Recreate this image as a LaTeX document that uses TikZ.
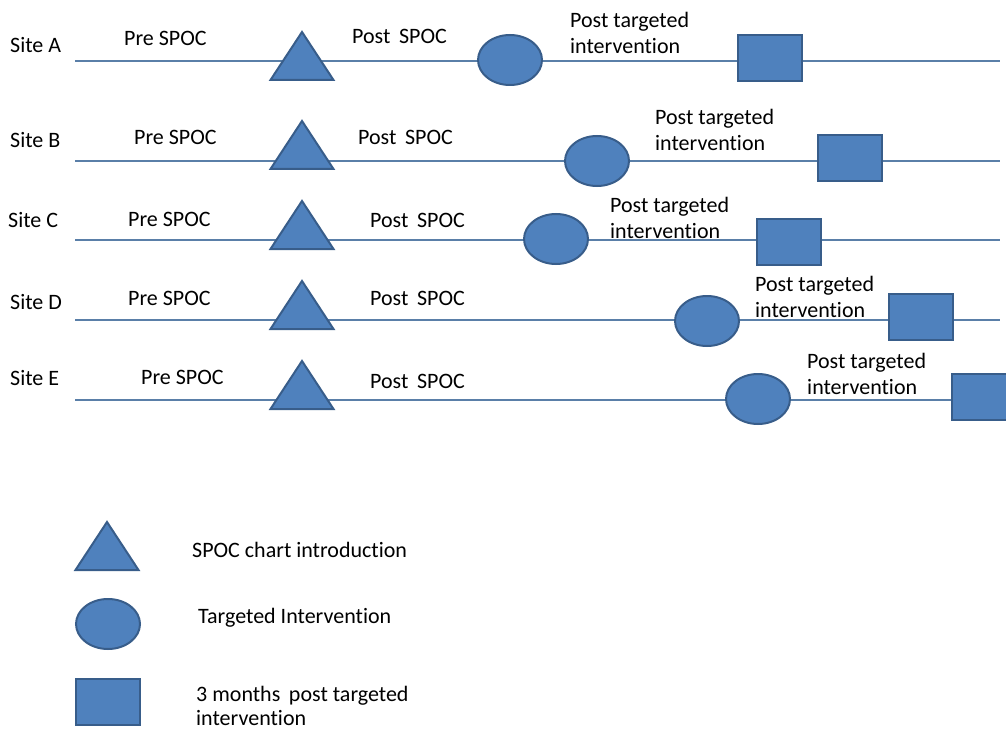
\documentclass[tikz,border=0pt]{standalone}
\usepackage{fontspec}
\setmainfont{Carlito}[Ligatures=NoCommon]
\usetikzlibrary{shapes.geometric}
\definecolor{shapefill}{HTML}{4F81BD}
\definecolor{shapeedge}{HTML}{385D8A}
\definecolor{timeline}{HTML}{5A7FA8}

\begin{document}
\begin{tikzpicture}[
  x=1pt, y=-1pt,
  font=\fontsize{22}{26}\selectfont,
  line/.style={draw=timeline, line width=1.2pt},
  mark shape/.style={fill=shapefill, draw=shapeedge, line width=2pt, inner sep=0pt, outer sep=0pt},
  tri/.style={mark shape, isosceles triangle, shape border rotate=90,
              isosceles triangle stretches, minimum width=63pt, minimum height=48pt,
              anchor=lower side},
  oval/.style={mark shape, ellipse, minimum width=64pt, minimum height=50pt},
  box/.style={mark shape, rectangle, minimum width=64pt, minimum height=46pt},
  lbl/.style={anchor=west, inner sep=0pt, align=left}
]
\useasboundingbox (0,0) rectangle (1006,730);
\clip (0,0) rectangle (1006,730);

% Timelines
\coordinate (a0) at (75,61);  \coordinate (a1) at (1000,61);
\coordinate (b0) at (75,161); \coordinate (b1) at (1000,161);
\coordinate (c0) at (75,240); \coordinate (c1) at (1000,240);
\coordinate (d0) at (75,320); \coordinate (d1) at (1000,320);
\coordinate (e0) at (75,400); \coordinate (e1) at (1006,400);

\draw[line] (a0) -- (a1);
\draw[line] (b0) -- (b1);
\draw[line] (c0) -- (c1);
\draw[line] (d0) -- (d1);
\draw[line] (e0) -- (e1);

% Site A
\node[lbl] (siteA) at (10,45) {Site A};
\node[lbl] (preA) at (124,38) {Pre SPOC};
\node[tri] (triA) at (302,80) {};
\node[lbl] (postA) at (352,36) {Post\, SPOC};
\node[oval] (ovalA) at (510,60) {};
\node[lbl] (targA) at (570,33) {Post targeted\\intervention};
\node[box] (boxA) at (770,58) {};

% Site B
\node[lbl] (siteB) at (10,140) {Site B};
\node[lbl] (preB) at (134,137) {Pre SPOC};
\node[tri] (triB) at (302,169) {};
\node[lbl] (postB) at (358,137) {Post\, SPOC};
\node[oval] (ovalB) at (597,161) {};
\node[lbl] (targB) at (655,130) {Post targeted\\intervention};
\node[box] (boxB) at (850,158) {};

% Site C
\node[lbl] (siteC) at (8,220) {Site C};
\node[lbl] (preC) at (128,219) {Pre SPOC};
\node[tri] (triC) at (302,249) {};
\node[lbl] (postC) at (370,220) {Post\, SPOC};
\node[oval] (ovalC) at (556,239) {};
\node[lbl] (targC) at (610,218) {Post targeted\\intervention};
\node[box] (boxC) at (789,242) {};

% Site D
\node[lbl] (siteD) at (10,302) {Site D};
\node[lbl] (preD) at (128,298) {Pre SPOC};
\node[tri] (triD) at (302,329) {};
\node[lbl] (postD) at (370,298) {Post\, SPOC};
\node[oval] (ovalD) at (707,321) {};
\node[lbl] (targD) at (755,297) {Post targeted\\intervention};
\node[box] (boxD) at (921,317) {};

% Site E
\node[lbl] (siteE) at (10,378) {Site E};
\node[lbl] (preE) at (141,377) {Pre SPOC};
\node[tri] (triE) at (302,409) {};
\node[lbl] (postE) at (370,381) {Post\, SPOC};
\node[oval] (ovalE) at (758,399) {};
\node[lbl] (targE) at (807,374) {Post targeted\\intervention};
\node[box] (boxE) at (984,397) {};

% Legend
\node[tri] (keyTri) at (107,570) {};
\node[lbl] (keyTriText) at (192,550) {SPOC chart introduction};
\node[oval] (keyOval) at (108,624) {};
\node[lbl] (keyOvalText) at (198,618) {Targeted Intervention};
\node[box] (keyBox) at (108,702) {};
\node[lbl, font=\fontsize{22}{24}\selectfont] (keyBoxText) at (196,706) {3 months\, post targeted\\intervention};

\end{tikzpicture}
\end{document}
